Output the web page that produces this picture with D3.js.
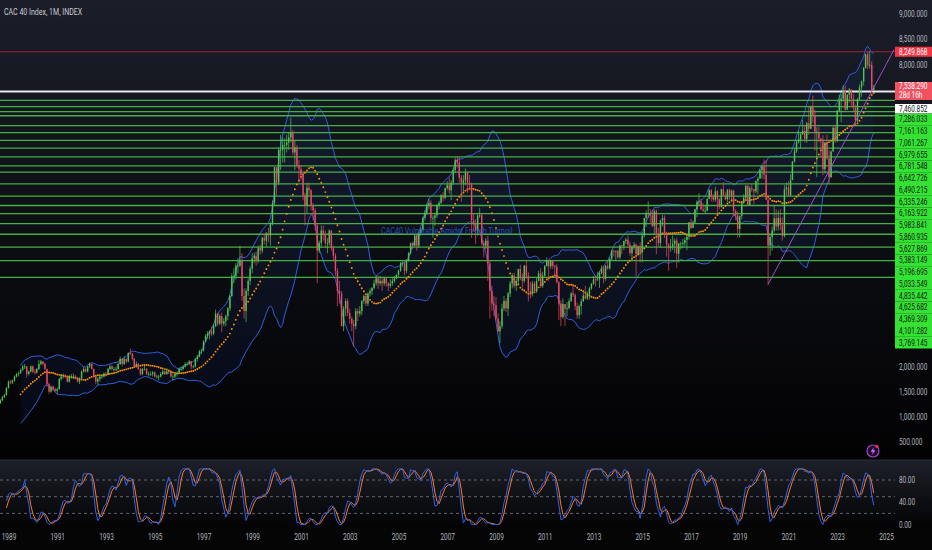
<!DOCTYPE html>
<html>
<head>
<meta charset="utf-8">
<script src="https://cdn.jsdelivr.net/npm/d3@7"></script>
<style>
  html, body { margin: 0; padding: 0; background: #000; }
  svg text { font-family: Roboto, 'Noto Sans', sans-serif; }
</style>
</head>
<body>
<div id="viz"></div>
<script>
// monthly bars, first bar = Dec 1987
const startMonth = new Date(1987, 11, 1);
const firstOpen = 990;

const closes = [
  1000,
  1050,1120,1180,1200,1230,1290,1320,1270,1330,1390,1430,1573,
  1700,1680,1720,1800,1850,1870,1930,2000,2000,1850,1900,2001,
  1900,1880,1950,2050,2100,2050,1950,1650,1500,1600,1550,1518,
  1550,1750,1800,1820,1800,1700,1800,1800,1800,1780,1700,1766,
  1900,1950,1900,2000,2050,1950,1800,1700,1750,1800,1800,1858,
  1850,1950,2000,1950,1950,1950,2050,2150,2050,2150,2100,2268,
  2250,2150,2000,2050,1950,1850,1950,1950,1850,1850,1850,1881,
  1800,1800,1800,1850,1900,1850,1900,1900,1800,1800,1850,1872,
  1950,1950,2000,2050,2050,2100,2000,2000,2150,2200,2300,2316,
  2500,2600,2650,2700,2650,2800,3050,2850,3000,2850,2900,2999,
  3150,3400,3800,3800,4000,4000,4100,3400,3100,3500,3700,3943,
  4150,4200,4100,4350,4300,4550,4500,4650,4600,4850,5250,5958,
  5650,6300,6300,6400,6400,6450,6550,6650,6250,6350,6000,5926,
  5800,5400,5200,5550,5500,5200,5100,4800,4300,4450,4700,4625,
  4450,4450,4700,4350,4200,3900,3500,3450,2800,3150,3300,3064,
  2950,2850,2800,3100,3050,3100,3300,3400,3250,3450,3500,3558,
  3650,3750,3650,3700,3650,3750,3650,3600,3650,3700,3750,3821,
  3900,4050,4050,3900,4100,4250,4450,4400,4600,4400,4650,4715,
  4950,5050,5200,5250,4950,4950,5000,5200,5250,5400,5350,5541,
  5600,5500,5650,5900,6100,6050,5750,5650,5700,5850,5650,5614,
  4900,4850,4700,5000,5000,4450,4400,4500,4050,3500,3250,3218,
  2950,2700,2800,3150,3300,3150,3450,3650,3800,3600,3700,3936,
  3750,3700,4000,3800,3500,3450,3650,3500,3700,3850,3600,3805,
  4000,4100,3990,4100,4000,3980,3670,3250,2980,3240,3150,3160,
  3300,3450,3420,3200,3020,3200,3290,3410,3350,3430,3550,3641,
  3730,3720,3730,3860,3950,3740,4000,3950,4140,4300,4290,4296,
  4170,4400,4390,4490,4520,4420,4250,4380,4420,4230,4390,4273,
  4600,4950,5030,5050,5000,4790,5080,4650,4450,4900,4950,4637,
  4420,4350,4380,4430,4500,4240,4440,4440,4450,4510,4580,4862,
  4750,4860,5120,5270,5280,5120,5090,5090,5330,5500,5370,5312,
  5480,5320,5170,5520,5400,5320,5510,5400,5490,5090,5000,4730,
  4990,5240,5350,5590,5210,5540,5520,5480,5680,5730,5900,5978,
  5810,5310,4400,4570,4700,4940,4780,4950,4800,4590,5520,5551,
  5400,5700,6070,6270,6450,6510,6610,6680,6520,6830,6720,7153,
  7000,6660,6660,6530,6470,5920,6450,6130,5760,6270,6740,6474,
  7080,7270,7320,7490,7100,7400,7500,7320,7140,6890,7310,7543,
  7660,7930,8200,7980,7990,7480,7538.29
];

const highs = [
  1010,
  1080,1140,1200,1230,1250,1310,1340,1330,1350,1420,1460,1590,
  1720,1730,1740,1820,1870,1900,1960,2030,2050,2010,1920,2020,
  2020,1940,1970,2130,2130,2110,2080,1960,1680,1620,1620,1580,
  1580,1770,1850,1860,1850,1810,1830,1850,1860,1830,1790,1780,
  1920,1990,1980,2010,2080,2060,1960,1820,1790,1830,1830,1880,
  1890,1970,2040,2030,1990,2000,2080,2200,2170,2200,2160,2280,
  2355,2270,2170,2100,2070,1970,1970,2010,1970,1900,1900,1910,
  1900,1840,1830,1890,1940,1920,1960,1930,1930,1840,1870,1900,
  1980,2000,2030,2080,2090,2130,2110,2030,2170,2230,2330,2350,
  2520,2640,2700,2720,2790,2850,3130,3070,3040,3070,2960,3030,
  3180,3420,3850,3950,4050,4150,4400,4250,3550,3550,3750,3990,
  4250,4260,4280,4400,4420,4580,4630,4670,4750,4870,5300,5960,
  5960,6350,6600,6550,6530,6600,6650,6944,6700,6500,6400,6100,
  6000,5850,5450,5650,5650,5520,5250,5150,4850,4500,4800,4800,
  4700,4550,4720,4700,4400,4250,3950,3700,3500,3200,3350,3350,
  3150,2990,2930,3160,3150,3200,3320,3430,3450,3470,3550,3580,
  3720,3810,3800,3800,3750,3780,3760,3680,3730,3770,3800,3830,
  3920,4080,4100,4080,4130,4270,4460,4480,4620,4620,4670,4760,
  4980,5100,5230,5330,5300,5000,5050,5220,5290,5420,5460,5550,
  5680,5750,5700,5950,6150,6168,6150,5800,5800,5930,5880,5800,
  5650,5050,4930,5020,5150,5050,4500,4550,4600,4100,3600,3400,
  3380,3050,2900,3250,3400,3350,3480,3700,3850,3860,3750,3940,
  4020,3850,4020,4100,3880,3680,3700,3690,3760,3900,3950,3880,
  4010,4170,4100,4110,4100,4020,4030,3700,3310,3350,3200,3280,
  3350,3480,3620,3450,3270,3230,3340,3490,3600,3490,3580,3660,
  3800,3800,3880,3900,4010,4000,4010,4090,4170,4320,4320,4300,
  4320,4420,4420,4500,4550,4600,4480,4400,4470,4440,4400,4460,
  4670,4950,5100,5280,5130,5110,5120,5120,4750,4920,5010,5000,
  4680,4450,4530,4600,4540,4560,4460,4480,4530,4560,4580,4870,
  4930,4900,5130,5300,5440,5320,5240,5190,5340,5520,5520,5420,
  5570,5500,5350,5530,5660,5460,5520,5530,5510,5510,5120,5070,
  5000,5260,5420,5600,5600,5580,5620,5530,5700,5770,5930,6000,
  6110,6100,5400,4640,4780,5200,5120,5100,5130,4960,5600,5650,
  5680,5820,6080,6330,6490,6690,6660,6900,6790,6860,7180,7180,
  7380,7100,6750,6760,6530,6590,6450,6600,6290,6290,6770,6800,
  7100,7400,7400,7580,7580,7400,7530,7500,7420,7200,7330,7600,
  7680,7950,8210,8250,8260,8060,7590
];

const lows = [
  960,
  980,1040,1100,1160,1180,1220,1270,1250,1260,1310,1370,1420,
  1560,1650,1650,1700,1780,1800,1850,1910,1950,1780,1820,1880,
  1870,1840,1860,1930,2020,2020,1930,1600,1460,1480,1520,1490,
  1450,1540,1720,1760,1770,1680,1680,1760,1750,1740,1680,1650,
  1750,1880,1880,1880,1970,1940,1780,1650,1630,1700,1760,1780,
  1800,1830,1920,1920,1900,1900,1920,2030,2000,2030,2060,2080,
  2220,2120,1970,1980,1930,1820,1830,1920,1830,1800,1810,1800,
  1780,1760,1720,1780,1830,1830,1830,1850,1780,1720,1770,1800,
  1860,1910,1920,1980,2010,2030,1950,1960,1980,2100,2180,2250,
  2300,2480,2550,2540,2600,2620,2780,2800,2820,2680,2800,2800,
  2920,3100,3380,3650,3730,3850,3980,3300,2950,2880,3400,3620,
  3850,4050,4000,4050,4220,4250,4420,4380,4470,4400,4800,5200,
  5400,5600,5900,6050,6050,6250,6300,6450,6200,5900,5950,5650,
  5700,5300,4800,5050,5400,5100,4900,4700,3650,4250,4350,4500,
  4350,4250,4400,4300,4100,3800,3200,3250,2800,2700,3000,3000,
  2850,2700,2400,2740,2900,2990,3020,3250,3200,3200,3390,3420,
  3530,3600,3540,3600,3500,3600,3580,3500,3560,3600,3660,3730,
  3780,3880,3980,3810,3850,4080,4220,4330,4380,4300,4350,4600,
  4700,4900,5010,5120,4850,4560,4790,4950,5120,5220,5280,5320,
  5500,5430,5300,5600,5850,5950,5650,5270,5460,5600,5450,5500,
  4550,4690,4430,4600,4950,4400,4170,4330,3700,2950,3100,3000,
  2900,2680,2465,2750,3100,3080,3000,3380,3550,3550,3500,3640,
  3710,3570,3660,3740,3290,3350,3390,3500,3460,3690,3560,3560,
  3780,3980,3700,3940,3940,3760,3650,2920,2800,2950,2800,3000,
  3130,3280,3380,3120,2950,2950,3030,3290,3330,3320,3330,3520,
  3620,3590,3700,3560,3830,3650,3700,3920,3920,4110,4180,4100,
  4140,4130,4230,4310,4430,4380,4200,4130,4320,3790,4200,4070,
  4070,4560,4770,4950,4860,4770,4630,4230,4390,4360,4780,4550,
  4180,3900,4280,4310,4250,3960,4060,4320,4350,4390,4310,4520,
  4730,4750,4850,4960,5200,5110,5070,5040,5090,5320,5280,5270,
  5270,5020,5120,5150,5390,5300,5260,5310,5280,4980,4900,4560,
  4560,4920,5250,5320,5200,5200,5470,5220,5440,5420,5730,5730,
  5720,5300,3630,4200,4300,4660,4700,4700,4710,4500,4560,5400,
  5370,5370,5700,6050,6240,6430,6330,6600,6450,6440,6600,6760,
  6830,6290,5760,6450,6150,5800,5830,6100,5630,5750,6270,6440,
  6460,7050,6850,7260,7080,7100,7240,7150,7070,6780,6850,7280,
  7360,7580,7920,7900,7920,7470,7480
];

const greenLevels = [7286.033, 7161.163, 7061.267, 6979.655, 6781.548, 6642.726, 6490.215,
  6335.246, 6163.922, 5983.841, 5860.935, 5627.869, 5383.149, 5196.695, 5033.549, 4835.442,
  4625.682, 4369.309, 4101.282, 3769.145];
const redLevel = 8249.868;
const whiteLevel = 7460.852;
const lastPrice = 7538.29;
const countdown = '28d 16h';
const trendLine = [[new Date(2020, 2, 1), 3630], [new Date(2025, 4, 1), 8290]];
const priceTicks = [500, 1000, 1500, 2000, 2500, 3000, 3500, 4000, 4500, 5000, 5500, 6000,
  6500, 7000, 7500, 8000, 8500, 9000];
const rsiTicks = [0, 40, 80];
const rsiBands = [20, 50, 80];
const yearTicks = [1989, 1991, 1993, 1995, 1997, 1999, 2001, 2003, 2005, 2007, 2009, 2011,
  2013, 2015, 2017, 2019, 2021, 2023, 2025];
const title = 'CAC 40 Index, 1M, INDEX';
const note = 'CAC40 Vulnerable Amidst French Turmoil';

const width = 932;
const height = 550;
const plotRight = 895;
const mainBottom = 460;
const rsiBottom = 528;
const squeeze = 0.78; // the screenshot's type is narrow

const x = d3.scaleTime()
  .domain([new Date(1989, 0, 1), new Date(2025, 0, 1)])
  .range([8.5, 886]);
const y = d3.scaleLinear().domain([500, 9000]).range([442, 14]);
const yr = d3.scaleLinear().domain([0, 80]).range([524.5, 480]);

const n = Math.min(closes.length, highs.length, lows.length);
const bars = d3.range(n).map(i => {
  const o = i ? closes[i - 1] : firstOpen;
  const c = closes[i];
  return {
    date: d3.timeMonth.offset(startMonth, i),
    o, c,
    h: Math.max(highs[i], o, c),
    l: Math.min(lows[i], o, c)
  };
});

// bollinger 20, 2
bars.forEach((b, i) => {
  if (i < 19) return;
  const w = closes.slice(i - 19, i + 1);
  const m = d3.mean(w);
  const sd = Math.sqrt(d3.mean(w.map(v => (v - m) * (v - m))));
  b.basis = m; b.upper = m + 2 * sd; b.lower = m - 2 * sd;
});

// stoch rsi 3,3,14,14
function rma(src, len) {
  let prev;
  return src.map((v, i) => (prev = i === 0 ? v : (prev * (len - 1) + v) / len));
}
function sma(src, len) {
  return src.map((v, i) => d3.mean(src.slice(Math.max(0, i - len + 1), i + 1)));
}
const change = closes.slice(0, n).map((c, i) => i ? c - closes[i - 1] : 0);
const up = rma(change.map(v => Math.max(v, 0)), 14);
const dn = rma(change.map(v => Math.max(-v, 0)), 14);
const rsi = up.map((u, i) => dn[i] === 0 ? 100 : 100 - 100 / (1 + u / dn[i]));
const stoch = rsi.map((v, i) => {
  const w = rsi.slice(Math.max(0, i - 13), i + 1);
  const lo = d3.min(w), hi = d3.max(w);
  return hi === lo ? 50 : (v - lo) / (hi - lo) * 100;
});
const kLine = sma(stoch, 3);
const dLine = sma(kLine, 3);
const rsiStart = new Date(1988, 11, 1);

const svg = d3.select('#viz')
  .append('svg')
  .attr('width', width)
  .attr('height', height);

const defs = svg.append('defs');
const bg = defs.append('linearGradient').attr('id', 'bg').attr('x1', 0).attr('y1', 0).attr('x2', 0).attr('y2', 1);
bg.append('stop').attr('offset', '0%').attr('stop-color', '#1b1e29');
bg.append('stop').attr('offset', '55%').attr('stop-color', '#0c0d12');
bg.append('stop').attr('offset', '100%').attr('stop-color', '#020203');
const bg2 = defs.append('linearGradient').attr('id', 'bg2').attr('x1', 0).attr('y1', 0).attr('x2', 0).attr('y2', 1);
bg2.append('stop').attr('offset', '0%').attr('stop-color', '#1d2029');
bg2.append('stop').attr('offset', '100%').attr('stop-color', '#030304');
defs.append('clipPath').attr('id', 'mainClip')
  .append('rect').attr('x', 0).attr('y', 0).attr('width', plotRight).attr('height', mainBottom);
defs.append('clipPath').attr('id', 'rsiClip')
  .append('rect').attr('x', 0).attr('y', mainBottom).attr('width', plotRight).attr('height', rsiBottom - mainBottom);

svg.append('rect').attr('width', width).attr('height', mainBottom).attr('fill', 'url(#bg)');
svg.append('rect').attr('y', mainBottom).attr('width', width).attr('height', rsiBottom - mainBottom).attr('fill', 'url(#bg2)');
svg.append('rect').attr('y', rsiBottom).attr('width', width).attr('height', height - rsiBottom).attr('fill', '#050506');
svg.append('line').attr('x1', 0).attr('x2', width).attr('y1', mainBottom).attr('y2', mainBottom)
  .attr('stroke', '#2a2e39').attr('stroke-width', 1);

const main = svg.append('g').attr('clip-path', 'url(#mainClip)');

// bands
const bb = bars.filter(d => d.basis !== undefined);
main.append('path')
  .datum(bb)
  .attr('d', d3.area().x(d => x(d.date)).y0(d => y(d.lower)).y1(d => y(d.upper)))
  .attr('fill', 'rgba(41,98,255,0.07)');
['upper', 'lower'].forEach(k => {
  main.append('path')
    .datum(bb)
    .attr('d', d3.line().x(d => x(d.date)).y(d => y(d[k])))
    .attr('fill', 'none')
    .attr('stroke', '#2f5fe0')
    .attr('stroke-width', 1);
});

// horizontal levels
main.selectAll('.lvl')
  .data(greenLevels)
  .enter()
  .append('line')
  .attr('class', 'lvl')
  .attr('x1', 0).attr('x2', plotRight)
  .attr('y1', d => y(d)).attr('y2', d => y(d))
  .attr('stroke', '#43b043')
  .attr('stroke-width', 1.3);
main.append('line')
  .attr('x1', 0).attr('x2', plotRight)
  .attr('y1', y(redLevel)).attr('y2', y(redLevel))
  .attr('stroke', '#9c2430').attr('stroke-width', 1.2);
main.append('line')
  .attr('x1', 0).attr('x2', plotRight)
  .attr('y1', y(whiteLevel)).attr('y2', y(whiteLevel))
  .attr('stroke', '#e8e8ea').attr('stroke-width', 1.8);

// basis dots
main.selectAll('.basis')
  .data(bb)
  .enter()
  .append('circle')
  .attr('class', 'basis')
  .attr('cx', d => x(d.date))
  .attr('cy', d => y(d.basis))
  .attr('r', 0.95)
  .attr('fill', '#ff9100');

// candles
const cw = 1.4;
const candle = main.selectAll('.bar')
  .data(bars)
  .enter()
  .append('g')
  .attr('class', 'bar')
  .attr('fill', d => d.c >= d.o ? '#52c452' : '#ec4a60')
  .attr('stroke', d => d.c >= d.o ? '#52c452' : '#ec4a60');
candle.append('line')
  .attr('x1', d => x(d.date)).attr('x2', d => x(d.date))
  .attr('y1', d => y(d.h)).attr('y2', d => y(d.l))
  .attr('stroke-width', 0.7);
candle.append('rect')
  .attr('x', d => x(d.date) - cw / 2)
  .attr('width', cw)
  .attr('y', d => y(Math.max(d.o, d.c)))
  .attr('height', d => Math.max(0.8, Math.abs(y(d.o) - y(d.c))))
  .attr('stroke', 'none');

// trend line
main.append('line')
  .attr('x1', x(trendLine[0][0])).attr('y1', y(trendLine[0][1]))
  .attr('x2', x(trendLine[1][0])).attr('y2', y(trendLine[1][1]))
  .attr('stroke', '#9a52c8').attr('stroke-width', 1);

function narrowText(parent, tx, ty, size, fill, str) {
  return parent.append('text')
    .attr('transform', `translate(${tx},${ty}) scale(${squeeze},1)`)
    .attr('font-size', size)
    .attr('fill', fill)
    .text(str);
}

narrowText(main, 381, 234, 9.2, '#2f5ad0', note).attr('fill-opacity', 0.9);
narrowText(svg, 4, 14.5, 9, '#c9cbd2', title);

// stoch rsi pane
const rsiG = svg.append('g').attr('clip-path', 'url(#rsiClip)');
rsiG.selectAll('.band')
  .data(rsiBands)
  .enter()
  .append('line')
  .attr('x1', 0).attr('x2', plotRight)
  .attr('y1', d => yr(d)).attr('y2', d => yr(d))
  .attr('stroke', '#787b86')
  .attr('stroke-width', 0.8)
  .attr('stroke-dasharray', '3,3');
const rsiBars = bars.filter(d => d.date >= rsiStart);
const offset = bars.length - rsiBars.length;
[[dLine, '#ff7a1a'], [kLine, '#2f62f0']].forEach(([src, col]) => {
  rsiG.append('path')
    .datum(rsiBars)
    .attr('d', d3.line().x(d => x(d.date)).y((d, i) => yr(src[i + offset])))
    .attr('fill', 'none')
    .attr('stroke', col)
    .attr('stroke-width', 1);
});

// price labels on the axis: red level, last price, white level, then the green stack
const step = 11.75;
const boxes = [
  {top: y(redLevel) - 5, h: 10, fill: '#f23645', color: '#ffffff', lines: [redLevel]},
  {top: 82, h: 18, fill: '#f2515f', color: '#ffffff', lines: [lastPrice, countdown]},
  {top: 104, h: 9.5, fill: '#ffffff', color: '#131722', lines: [whiteLevel]}
].concat(greenLevels.map((v, i) => ({
  top: 113.5 + i * step, h: step, fill: '#33e233', color: '#10140f', lines: [v]
})));
const covered = v => boxes.some(b => y(v) > b.top - 4 && y(v) < b.top + b.h + 4);

// axes
const axisCol = '#b2b5be';
const yAxis = svg.append('g')
  .attr('transform', `translate(${plotRight},0)`)
  .call(d3.axisRight(y).tickValues(priceTicks.filter(v => !covered(v)))
    .tickFormat(d3.format(',.3f')).tickSize(0).tickPadding(5));
const rAxis = svg.append('g')
  .attr('transform', `translate(${plotRight},0)`)
  .call(d3.axisRight(yr).tickValues(rsiTicks).tickFormat(d3.format(',.2f')).tickSize(0).tickPadding(5));
const xAxis = svg.append('g')
  .attr('transform', `translate(0,${rsiBottom})`)
  .call(d3.axisBottom(x).tickValues(yearTicks.map(v => new Date(v, 0, 1)))
    .tickFormat(d3.timeFormat('%Y')).tickSize(0).tickPadding(6));
[yAxis, rAxis, xAxis].forEach(g => {
  g.select('.domain').remove();
  g.selectAll('text')
    .attr('fill', axisCol)
    .attr('font-size', 8.3)
    .attr('font-family', 'Roboto, sans-serif')
    .attr('transform', `scale(${squeeze},1)`);
});

const fmt = d3.format(',.3f');
boxes.forEach(b => {
  svg.append('rect').attr('x', plotRight).attr('y', b.top)
    .attr('width', width - plotRight).attr('height', b.h).attr('fill', b.fill);
  b.lines.forEach((t, i) => {
    narrowText(svg, plotRight + 4, b.top + (i + 0.5) * b.h / b.lines.length, 8.3, b.color,
      typeof t === 'number' ? fmt(t) : t)
      .attr('dy', '0.35em');
  });
});

// alert icon
const icon = svg.append('g').attr('transform', 'translate(873,451)');
icon.append('circle').attr('r', 6).attr('fill', 'rgba(90,30,120,0.35)').attr('stroke', '#a042d0').attr('stroke-width', 1.2);
icon.append('path').attr('d', 'M1,-4 L-2.5,0.8 L-0.2,0.8 L-1,4 L2.5,-0.8 L0.2,-0.8 Z').attr('fill', '#c070f0');
icon.append('circle').attr('cx', 4).attr('cy', -4.5).attr('r', 1.6).attr('fill', '#f23645');
</script>
</body>
</html>
